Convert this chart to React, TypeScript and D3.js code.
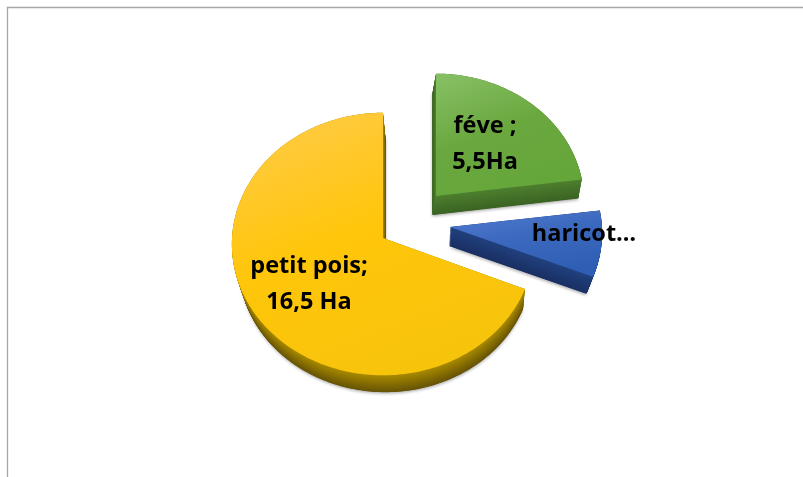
import React from "react";
import * as d3 from "d3";

const categories = ["féve", "haricot", "petit pois"];
const hectares = [5.5, 2, 16.5];
const labelLines = [["féve ;", "5,5Ha"], ["haricot…"], ["petit pois;", "16,5 Ha"]];

const topStops = [
  ["#86bf63", "#6aa83f", "#65a63a"],
  ["#5079cf", "#3a68bd", "#2f5fb5"],
  ["#ffcb4a", "#ffc60a", "#f7c40c"],
];
const wallColors = [
  ["#4f8030", "#3c6424"],
  ["#23427f", "#1b3164"],
  ["#a88a00", "#675408"],
];
const layouts = [
  { cx: 436, cy: 196, rx: 148, ry: 128, dx: -3.5, dy: 19, scale: 1.0, labelX: 485, labelY: [133, 169] },
  { cx: 450, cy: 227, rx: 152, ry: 128, dx: -1, dy: 19, scale: 0.96, labelX: 584, labelY: [241] },
  { cx: 383, cy: 238, rx: 151, ry: 131, dx: 2.5, dy: 21, scale: 0.97, labelX: 309, labelY: [273, 309] },
];
const PERSPECTIVE = 0.046;

const slices = d3.pie<number>().sort(null)(hectares);

type L = (typeof layouts)[number];

function outline(a0: number, a1: number, l: L): [number, number][] {
  const steps = Math.ceil((a1 - a0) / 0.02);
  const angles = d3.range(steps + 1).map((i) => a0 + ((a1 - a0) * i) / steps);
  const project = (a: number, r: number): [number, number] => {
    const u = Math.sin(a) * r;
    const v = -Math.cos(a) * r;
    const w = 1 / (1 - PERSPECTIVE * v);
    return [l.cx + u * l.rx * w, l.cy + v * l.ry * w];
  };
  return [[l.cx, l.cy], ...angles.map((a) => project(a, 1))];
}

const path = d3.line<[number, number]>().curve(d3.curveLinearClosed);

function extruded(pts: [number, number][], l: L, t: number): [number, number][] {
  const s = 1 + (l.scale - 1) * t;
  return pts.map(([x, y]) => [
    l.cx + (x - l.cx) * s + l.dx * t,
    l.cy + (y - l.cy) * s + l.dy * t,
  ]);
}

const LAYERS = 60;

export default function App() {
  return (
    <svg
      width={803}
      height={477}
      style={{ position: "fixed", left: 0, top: 0, background: "#fff" }}
    >
      <defs>
        <filter id="soft" x="-10%" y="-10%" width="120%" height="120%">
          <feGaussianBlur stdDeviation="1.6" />
        </filter>
        <filter id="txt" x="-5%" y="-5%" width="110%" height="110%">
          <feGaussianBlur stdDeviation="0.3" />
        </filter>
        {categories.map((_, i) => (
          <linearGradient key={i} id={`top${i}`} x1="0.1" y1="0" x2="0.55" y2="1">
            <stop offset="0" stopColor={topStops[i][0]} />
            <stop offset="0.5" stopColor={topStops[i][1]} />
            <stop offset="1" stopColor={topStops[i][2]} />
          </linearGradient>
        ))}
      </defs>
      <path d="M7.5 477V7.5H803" fill="none" stroke="#a6a6a6" strokeWidth={1.3} />
      {slices.map((s, i) => {
        const l = layouts[i];
        const pts = outline(s.startAngle, s.endAngle, l);
        const wall = d3.interpolateRgb(wallColors[i][1], wallColors[i][0]);
        return (
          <g key={categories[i]}>
            <path d={path(extruded(pts, l, 1.08)) ?? ""} fill="#777" opacity={0.6} filter="url(#soft)" />
            {d3.range(0, LAYERS + 1).map((k) => (
              <path key={k} d={path(extruded(pts, l, 1 - k / LAYERS)) ?? ""} fill={wall(k / LAYERS)} />
            ))}
            <path d={path(pts) ?? ""} fill={`url(#top${i})`} />
          </g>
        );
      })}
      {slices.map((_, i) => (
        <text
          key={categories[i]}
          textAnchor="middle"
          fontFamily="'Open Sans', sans-serif"
          fontWeight={700}
          fontSize={23.5}
          fill="#000"
          filter="url(#txt)"
        >
          {labelLines[i].map((t, j) => (
            <tspan key={j} x={layouts[i].labelX} y={layouts[i].labelY[j]}>
              {t}
            </tspan>
          ))}
        </text>
      ))}
    </svg>
  );
}
